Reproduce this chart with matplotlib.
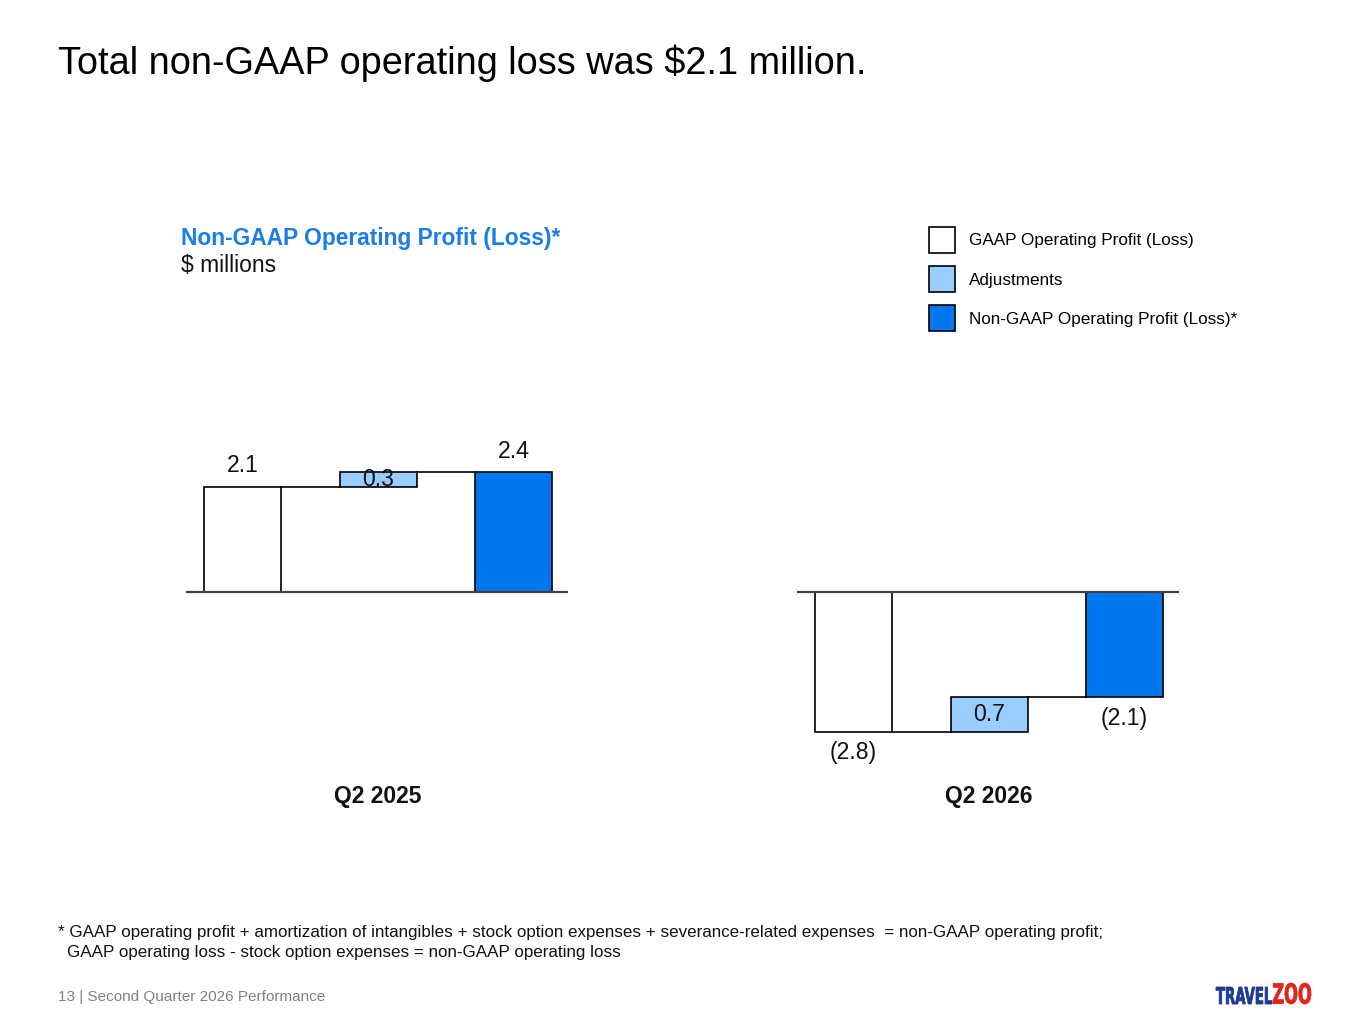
import matplotlib
matplotlib.use("Agg")
import matplotlib.pyplot as plt
from matplotlib.patches import Patch, PathPatch
from matplotlib.textpath import TextPath
from matplotlib.font_manager import FontProperties
from matplotlib.transforms import Affine2D

plt.rcParams['font.family'] = ['Liberation Sans', 'DejaVu Sans']

# data ($ millions)
periods = ["Q2 2025", "Q2 2026"]
gaap = [2.1, -2.8]
adjustments = [0.3, 0.7]
non_gaap = [2.4, -2.1]

legend_labels = ["GAAP Operating Profit (Loss)", "Adjustments", "Non-GAAP Operating Profit (Loss)*"]

c_gaap = "white"
c_adj = "#99ccff"
c_non = "#0077ee"
c_blue_txt = "#1a7ee6"

W, H = 1365, 1024
fig = plt.figure(figsize=(W / 100, H / 100), dpi=100)
fig.patch.set_facecolor("white")


def fmt(v):
    return f"({abs(v):.1f})" if v < 0 else f"{v:.1f}"


def px_axes(x0, x1, y_top, y_bot):
    return fig.add_axes([x0 / W, 1 - y_bot / H, (x1 - x0) / W, (y_bot - y_top) / H])


bw = 0.568
lims = (-3.8, 3.8)
axes_x = [(186, 568), (797, 1179)]

for i, period in enumerate(periods):
    ax = px_axes(axes_x[i][0], axes_x[i][1], 402, 782)
    ax.set_xlim(-0.417, 2.402)
    ax.set_ylim(*lims)
    ax.axis("off")

    g, a, n = gaap[i], adjustments[i], non_gaap[i]
    ax.bar(0, g, width=bw, color=c_gaap, edgecolor="black", linewidth=1.2, zorder=2)
    lo = min(g, g + a)
    ax.bar(1, abs(a), bottom=lo, width=bw, color=c_adj, edgecolor="black", linewidth=1.2, zorder=2)
    ax.bar(2, n, width=bw, color=c_non, edgecolor="black", linewidth=1.2, zorder=2)

    # connectors
    ax.plot([bw / 2, 1 - bw / 2], [g, g], color="black", lw=1.2, zorder=1)
    ax.plot([1 + bw / 2, 2 - bw / 2], [g + a, g + a], color="black", lw=1.2, zorder=1)
    ax.axhline(0, color="#404040", lw=1.6, zorder=3)

    off = 0.42
    for x, v in [(0, g), (2, n)]:
        y = v + off if v >= 0 else v - off
        ax.text(x, y, fmt(v), ha="center", va="center", fontsize=16.6, color="#111111")
    ax.text(1, lo + abs(a) / 2, fmt(a), ha="center", va="center", fontsize=16.6, color="#111111", zorder=4)

    ax.text(1, -4.08, period, ha="center", va="center", fontsize=16.5, fontweight="bold",
            color="#111111", clip_on=False)

# titles
fig.text(58 / W, 1 - 63 / H, "Total non-GAAP operating loss was $2.1 million.", fontsize=27.3,
         ha="left", va="center", color="black")
fig.text(181 / W, 1 - 238 / H, "Non-GAAP Operating Profit (Loss)*", fontsize=16.4, fontweight="bold",
         color=c_blue_txt, ha="left", va="center")
fig.text(181 / W, 1 - 265 / H, "$ millions", fontsize=16.4, color="#111111", ha="left", va="center")

handles = [Patch(facecolor=c, edgecolor="black", linewidth=1.2) for c in (c_gaap, c_adj, c_non)]
fig.legend(handles, legend_labels, loc="upper left", bbox_to_anchor=(929 / W, 1 - 227 / H),
           frameon=False, fontsize=12.3, handlelength=1.55, handleheight=1.97, labelspacing=0.76,
           handletextpad=0.8, borderpad=0, borderaxespad=0)

fig.text(58 / W, 1 - 933 / H,
         "* GAAP operating profit + amortization of intangibles + stock option expenses + severance-related expenses  = non-GAAP operating profit;",
         fontsize=12.25, ha="left", va="center", color="#111111")
fig.text(67 / W, 1 - 953 / H, "GAAP operating loss - stock option expenses = non-GAAP operating loss",
         fontsize=12.25, ha="left", va="center", color="#111111")
fig.text(58 / W, 1 - 997 / H, "13 | Second Quarter 2026 Performance", fontsize=11,
         ha="left", va="center", color="#808080")


# logo, drawn as condensed heavy text paths (pixel coordinates)
def logo_word(s, x0, x1, y_bot, y_top, color):
    tp = TextPath((0, 0), s, size=20, prop=FontProperties(family="DejaVu Sans", weight="bold"))
    ext = tp.get_extents()
    sx = (x1 - x0) / ext.width
    sy = (y_bot - y_top) / ext.height
    tr = Affine2D().translate(-ext.x0, -ext.y0).scale(sx, sy).translate(x0, H - y_bot)
    fig.add_artist(PathPatch(tp, transform=tr, facecolor=color, edgecolor=color, lw=0.6))


logo_word("TRAVEL", 1216, 1272, 1004, 987, "#1f3a93")
logo_word("ZOO", 1273, 1311, 1004, 983, "#e0261b")

fig.savefig("out.png", dpi=100, facecolor="white")
